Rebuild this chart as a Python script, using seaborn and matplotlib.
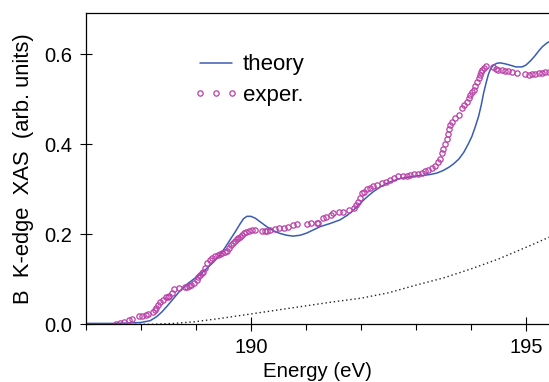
import seaborn as sns
import matplotlib.pyplot as plt
from matplotlib.lines import Line2D
from matplotlib.legend_handler import HandlerLine2D
from matplotlib.ticker import MultipleLocator, FormatStrFormatter

# theory curve (blue line)
theory_e = [187.0, 187.5, 187.8, 188.0, 188.17, 188.29, 188.38, 188.47, 188.6, 188.71,
            188.85, 188.99, 189.1, 189.2, 189.32, 189.44, 189.53, 189.62, 189.72, 189.81,
            189.87, 189.93, 190.0, 190.08, 190.18, 190.29, 190.41, 190.53, 190.65, 190.77,
            190.9, 191.02, 191.14, 191.26, 191.44, 191.62, 191.75, 191.87, 191.96, 192.05,
            192.14, 192.23, 192.35, 192.47, 192.59, 192.71, 192.86, 193.02, 193.14, 193.26,
            193.38, 193.5, 193.6, 193.68, 193.78, 193.87, 193.95, 194.02, 194.08, 194.14,
            194.19, 194.23, 194.28, 194.32, 194.36, 194.41, 194.47, 194.53, 194.62, 194.71,
            194.82, 194.93, 195.0, 195.08, 195.16, 195.23, 195.3, 195.38, 195.45]
theory_v = [0.002, 0.002, 0.003, 0.004, 0.008, 0.017, 0.027, 0.039, 0.058, 0.074,
            0.09, 0.103, 0.113, 0.124, 0.138, 0.154, 0.17, 0.187, 0.206, 0.224,
            0.235, 0.24, 0.24, 0.236, 0.227, 0.217, 0.208, 0.202, 0.198, 0.196,
            0.198, 0.203, 0.21, 0.217, 0.224, 0.232, 0.242, 0.254, 0.265, 0.276,
            0.286, 0.295, 0.305, 0.313, 0.319, 0.324, 0.327, 0.33, 0.331, 0.333,
            0.336, 0.342, 0.349, 0.356, 0.367, 0.382, 0.4, 0.418, 0.439, 0.462,
            0.488, 0.513, 0.538, 0.556, 0.568, 0.576, 0.58, 0.581, 0.579, 0.576,
            0.572, 0.572, 0.576, 0.585, 0.596, 0.607, 0.617, 0.625, 0.63]

# experiment (open circles)
exp_e = [187.55, 187.62, 187.7, 187.78, 187.84, 187.97, 188.02, 188.1, 188.14, 188.22,
         188.26, 188.28, 188.32, 188.35, 188.4, 188.46, 188.5, 188.52, 188.56, 188.6,
         188.7, 188.8, 188.84, 188.87, 188.92, 188.96, 189.02, 189.05, 189.08, 189.11,
         189.14, 189.17, 189.2, 189.25, 189.3, 189.35, 189.4, 189.44, 189.48, 189.53,
         189.56, 189.6, 189.64, 189.68, 189.72, 189.75, 189.77, 189.8, 189.84, 189.87,
         189.92, 189.97, 190.02, 190.08, 190.2, 190.25, 190.29, 190.35, 190.44, 190.52,
         190.6, 190.68, 190.77, 190.84, 191.02, 191.1, 191.2, 191.23, 191.32, 191.37,
         191.45, 191.5, 191.6, 191.68, 191.78, 191.87, 191.92, 191.94, 191.98, 192.02,
         192.06, 192.11, 192.17, 192.23, 192.3, 192.38, 192.45, 192.53, 192.6, 192.68,
         192.76, 192.84, 192.9, 192.96, 193.04, 193.11, 193.17, 193.23, 193.29, 193.35,
         193.4, 193.44, 193.47, 193.5, 193.53, 193.56, 193.58, 193.6, 193.62, 193.66,
         193.72, 193.78, 193.84, 193.88, 193.93, 193.96, 193.99, 194.02, 194.05, 194.08,
         194.11, 194.14, 194.16, 194.18, 194.2, 194.24, 194.28, 194.4, 194.45, 194.5,
         194.56, 194.62, 194.68, 194.74, 194.84, 194.99, 195.05, 195.11, 195.17, 195.23,
         195.29, 195.35, 195.42]
exp_v = [0.0, 0.004, 0.005, 0.01, 0.012, 0.018, 0.018, 0.021, 0.023, 0.027,
         0.032, 0.036, 0.044, 0.05, 0.054, 0.061, 0.061, 0.063, 0.07, 0.078,
         0.081, 0.082, 0.084, 0.085, 0.088, 0.092, 0.098, 0.106, 0.11, 0.114,
         0.117, 0.126, 0.136, 0.143, 0.148, 0.152, 0.155, 0.156, 0.158, 0.161,
         0.164, 0.17, 0.176, 0.18, 0.186, 0.19, 0.191, 0.195, 0.199, 0.202,
         0.206, 0.208, 0.21, 0.209, 0.208, 0.208, 0.208, 0.209, 0.211, 0.213,
         0.213, 0.216, 0.221, 0.223, 0.224, 0.226, 0.226, 0.226, 0.236, 0.239,
         0.244, 0.248, 0.25, 0.25, 0.254, 0.258, 0.266, 0.272, 0.28, 0.291,
         0.295, 0.3, 0.304, 0.307, 0.31, 0.313, 0.317, 0.321, 0.326, 0.33,
         0.329, 0.33, 0.332, 0.334, 0.335, 0.337, 0.34, 0.343, 0.347, 0.352,
         0.36, 0.368, 0.38, 0.39, 0.4, 0.412, 0.424, 0.435, 0.443, 0.45,
         0.458, 0.466, 0.48, 0.488, 0.495, 0.503, 0.51, 0.516, 0.521, 0.53,
         0.539, 0.548, 0.554, 0.56, 0.565, 0.57, 0.574, 0.571, 0.568, 0.565,
         0.565, 0.564, 0.563, 0.561, 0.559, 0.556, 0.555, 0.556, 0.557, 0.558,
         0.559, 0.56, 0.561]

# background (dotted)
bg_e = [187.9, 188.2, 188.6, 189.0, 189.5, 190.0, 190.5, 191.0, 191.5, 192.0,
        192.5, 193.0, 193.5, 194.0, 194.5, 195.0, 195.45]
bg_v = [0.0, 0.0, 0.002, 0.006, 0.014, 0.023, 0.032, 0.041, 0.05, 0.058,
        0.07, 0.087, 0.103, 0.123, 0.145, 0.171, 0.195]

sns.set_style("ticks")
plt.rcParams['font.family'] = ['Liberation Sans', 'DejaVu Sans']
plt.rcParams['text.color'] = 'black'
plt.rcParams['axes.labelcolor'] = 'black'

fig = plt.figure(figsize=(5.49, 3.82), dpi=100)
ax = fig.add_axes([0.1561, 0.151, 0.8439, 0.814])

sns.lineplot(x=theory_e, y=theory_v, ax=ax, color='#3a5cb4', lw=1.1,
             estimator=None, sort=False, label='theory')
sns.lineplot(x=exp_e, y=exp_v, ax=ax, estimator=None, sort=False, linestyle='',
             marker='o', markersize=3.8, markerfacecolor='none',
             markeredgecolor='#bb3fa8', markeredgewidth=0.9, color='#bb3fa8',
             label='exper.')
sns.lineplot(x=bg_e, y=bg_v, ax=ax, color='#222222', lw=1.0, linestyle=(0, (1, 2)),
             estimator=None, sort=False)

ax.set_xlim(187, 195.42)
ax.set_ylim(0, 0.691)
ax.xaxis.set_major_locator(MultipleLocator(5))
ax.xaxis.set_minor_locator(MultipleLocator(1))
ax.yaxis.set_major_locator(MultipleLocator(0.2))
ax.yaxis.set_major_formatter(FormatStrFormatter('%.1f'))
ax.tick_params(axis='x', which='major', direction='inout', length=9.4, width=0.8,
               labelsize=14.5, pad=5, color='black', labelcolor='black')
ax.tick_params(axis='x', which='minor', direction='out', length=4.3, width=0.8, color='black')
ax.tick_params(axis='y', which='major', direction='inout', length=8.6, width=0.8,
               labelsize=14.5, pad=5.5, color='black', labelcolor='black')
for s in ['left', 'bottom', 'top']:
    ax.spines[s].set_color('black')
    ax.spines[s].set_linewidth(0.9)
ax.spines['right'].set_visible(False)

ax.set_xlabel('Energy (eV)', fontsize=14.7, labelpad=4)
ax.set_ylabel('B  K-edge  XAS  (arb. units)', fontsize=15.8, labelpad=7)

ax.legend(loc='upper left', bbox_to_anchor=(0.2467, 0.868), frameon=False,
          fontsize=16, numpoints=3, handlelength=1.43, handletextpad=0.5,
          labelspacing=0.44, borderpad=0, borderaxespad=0,
          handler_map={Line2D: HandlerLine2D(marker_pad=0)})

plt.savefig('out.png', dpi=100)
